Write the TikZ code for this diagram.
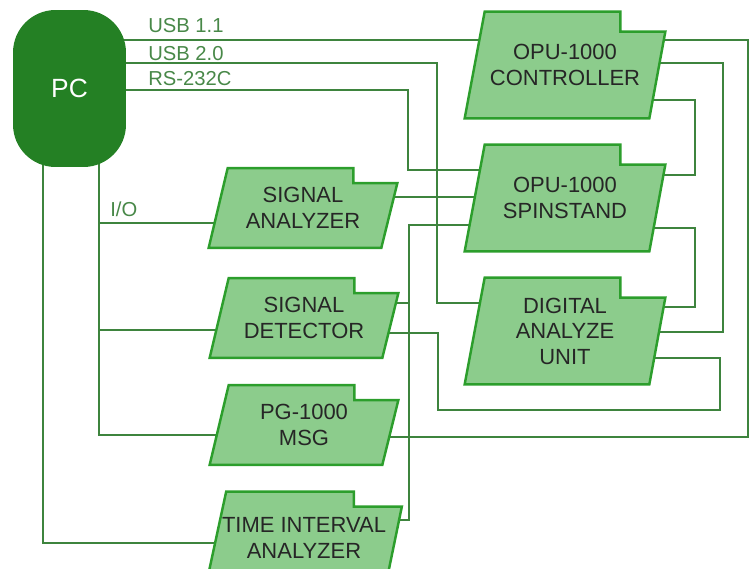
\documentclass[tikz,border=0pt]{standalone}
\usepackage{fontspec}
\setmainfont{Liberation Sans}
\usetikzlibrary{calc}
\definecolor{pcgreen}{RGB}{36,128,36}
\definecolor{cardfill}{RGB}{140,204,140}
\definecolor{cardedge}{RGB}{44,158,44}
\definecolor{wiregreen}{RGB}{62,132,62}
\definecolor{labelgreen}{RGB}{72,136,72}
\pgfdeclarelayer{wires}
\pgfdeclarelayer{cards}
\pgfsetlayers{wires,cards,main}
% card outline round a node: name, slant, tab, drop, inset
\newcommand\card[5]{\begin{pgfonlayer}{cards}\draw[cardline] (#1.south west) -- ($(#1.north west)+(#2,0)$) -- ($(#1.north east)+(-#3,0)$) -- ($(#1.north east)+(-#3,#4)$) -- ($(#1.north east)+(0,#4)$) -- ($(#1.south east)+(-#5,0)$) -- cycle;\end{pgfonlayer}}

\begin{document}
\begin{tikzpicture}[x=0.02cm,y=-0.02cm,
	wire/.style={draw=wiregreen,line width=1.1pt},
	cardline/.style={draw=cardedge,fill=cardfill,line width=1.4pt},
	card/.style={inner sep=0pt,align=center,text=black!85,font=\fontsize{12.5}{14.5}\selectfont},
	rightcard/.style={card,minimum width=4cm,minimum height=2.12cm},
	leftcard/.style={card,minimum width=3.76cm,minimum height=1.58cm},
	tag/.style={anchor=base west,inner sep=0pt,text=labelgreen,font=\fontsize{11.5}{13}\selectfont}]
			%%%%% START %%%%%
			\def\xusb{437}
			\def\xrs{408}
			\def\xbus{409}
			\def\xdet{438}
			\def\xio{99}
			\def\xtia{43}
			
			\useasboundingbox (0,0) rectangle (750,568);
			
			\node[rounded corners=0.85cm,fill=pcgreen,minimum width=2.26cm,minimum height=3.14cm,text=white,font=\fontsize{15}{17}\selectfont] (pc) at (69.5,88.5) {PC};
			
			\node[rightcard] (ctrl) at (565,65) {OPU-1000\\CONTROLLER};
			\node[rightcard] (spin) at (565,198) {OPU-1000\\SPINSTAND};
			\node[rightcard] (dau) at (565,331) {DIGITAL\\ANALYZE\\UNIT};
			\node[leftcard] (sana) at (303,208) {SIGNAL\\ANALYZER};
			\node[leftcard] (sdet) at (304,318) {SIGNAL\\DETECTOR};
			\node[leftcard] (msg) at (304,425) {PG-1000\\MSG};
			\node[leftcard,minimum width=3.9cm,minimum height=1.84cm] (tia) at (304,538) {TIME INTERVAL\\ANALYZER};
			
			\card{ctrl}{20}{45}{20}{16}
			\card{spin}{20}{45}{20}{16}
			\card{dau}{20}{45}{20}{16}
			\card{sana}{19}{44}{15}{16}
			\card{sdet}{19}{44}{15}{16}
			\card{msg}{19}{44}{15}{16}
			\card{tia}{20}{48}{15}{16}
			
			\node[tag] (usb1) at (148,32) {USB 1.1};
			\node[tag] (usb2) at (148,60) {USB 2.0};
			\node[tag] (rs) at (148,85) {RS-232C};
			\node[tag] (io) at (110,216) {I/O};
			
			\begin{pgfonlayer}{wires}
			\draw[wire] (pc |- 0,40) -- (ctrl |- 0,40);
			\draw[wire] (pc |- 0,63) -| (\xusb,303) -- (dau |- 0,303);
			\draw[wire] (pc |- 0,90) -| (\xrs,170) -- (spin |- 0,170);
			\draw[wire] (ctrl |- 0,40) -| (748,437) -- (msg |- 0,437);
			\draw[wire] (ctrl |- 0,63) -| (723,332) -- (dau |- 0,332);
			\draw[wire] (ctrl |- 0,100) -| (695,175) -- (spin |- 0,175);
			\draw[wire] (spin |- 0,228) -| (695,307) -- (dau |- 0,307);
			\draw[wire] (dau |- 0,358) -| (720,410) -| (\xdet,333) -- (sdet |- 0,333);
			\draw[wire] (sana |- 0,197) -- (spin |- 0,197);
			\draw[wire] (spin |- 0,225) -| (\xbus,520) -- (tia |- 0,520);
			\draw[wire] (sdet |- 0,303) -- (\xbus,303);
			\draw[wire] (pc -| \xtia,0) |- (tia |- 0,543);
			\draw[wire] (pc -| \xio,0) |- (msg |- 0,435);
			\draw[wire] (\xio,223) -- (sana |- 0,223);
			\draw[wire] (\xio,330) -- (sdet |- 0,330);
			\end{pgfonlayer}
			%%%%% END %%%%%
\end{tikzpicture}
\end{document}
